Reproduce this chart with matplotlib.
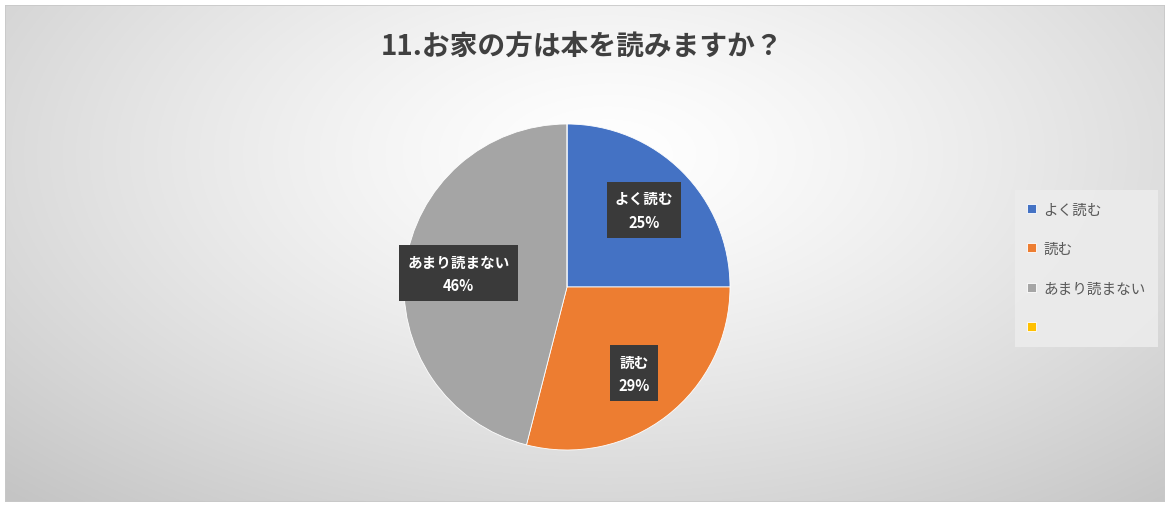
import numpy as np
import matplotlib.pyplot as plt
from matplotlib.patches import Rectangle

plt.rcParams['font.family'] = ['Noto Sans CJK JP', 'DejaVu Sans']

# data
title = '11.お家の方は本を読みますか？'
categories = ['よく読む', '読む', 'あまり読まない', '']
values = [25, 29, 46, 0]
colors = ['#4472C4', '#ED7D31', '#A5A5A5', '#FFC000']

W, H = 1169, 506
fig = plt.figure(figsize=(W / 100, H / 100), dpi=100)
fig.patch.set_facecolor('white')

# chart area with radial gradient
bg = fig.add_axes([5 / W, 3 / H, 1160 / W, 497 / H])
bg.set_axis_off()
yy, xx = np.mgrid[0:1:300j, 0:1:700j]
d = np.sqrt(((xx - 0.52) / 0.75) ** 2 + ((yy - 0.30) / 0.95) ** 2)
d = np.clip(d, 0, 1)
shade = 1.0 - 0.23 * d ** 1.3
bg.imshow(np.dstack([shade] * 3), aspect='auto', extent=[0, 1, 1, 0])
bg.add_patch(Rectangle((0, 0), 1, 1, transform=bg.transAxes, fill=False,
                       edgecolor='#c8c8c8', lw=1.2))

fig.text(582 / W, 1 - 47 / H, title, ha='center', va='center',
         fontsize=20, fontweight='bold', color='#404040')

# pie
cx, cy, r = 567, 288, 163
ax = fig.add_axes([(cx - r) / W, (H - cy - r) / H, 2 * r / W, 2 * r / H])
wedges, _ = ax.pie(values, colors=colors, startangle=90, counterclock=False,
                   radius=1, wedgeprops=dict(edgecolor='white', linewidth=0.6))
ax.set_xlim(-1, 1)
ax.set_ylim(-1, 1)
ax.set_aspect('equal')
ax.set_axis_off()

total = sum(values)
for w, cat, v in zip(wedges, categories, values):
    if v == 0:
        continue
    ang = np.deg2rad((w.theta1 + w.theta2) / 2)
    dist = 0.67
    ax.text(dist * np.cos(ang), dist * np.sin(ang),
            f'{cat}\n{v / total * 100:.0f}%', ha='center', va='center',
            fontsize=10.5, fontweight='bold', color='white', linespacing=1.6,
            bbox=dict(boxstyle='square,pad=0.55', facecolor='#3a3a3a',
                      edgecolor='none'))

leg = fig.legend(wedges, categories, loc='upper left',
                 bbox_to_anchor=(1015 / W, 1 - 191 / H),
                 frameon=True, fancybox=False, fontsize=10.5,
                 handlelength=0.6, handleheight=0.6, handletextpad=0.5,
                 labelspacing=1.75, borderpad=0.85, borderaxespad=0)
leg.get_frame().set_facecolor('#ececec')
leg.get_frame().set_alpha(0.9)
leg.get_frame().set_edgecolor('none')
for t in leg.get_texts():
    t.set_color('#595959')

fig.savefig('out.png', dpi=100)
